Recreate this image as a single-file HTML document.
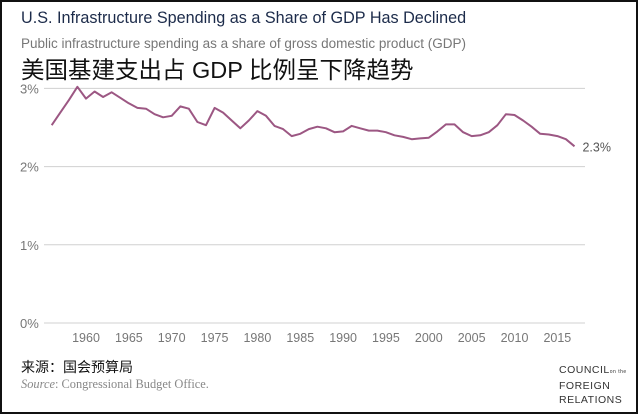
<!DOCTYPE html>
<html><head><meta charset="utf-8">
<style>
html,body{margin:0;padding:0;background:#fff;}
#wrap{position:relative;width:634px;height:410px;border:2px solid #111;overflow:hidden;font-family:"Liberation Sans","Noto Sans CJK SC",sans-serif;}
.t{position:absolute;white-space:nowrap;}
</style></head><body>
<div id="wrap">
<div class="t" style="left:19px;top:7px;font-size:16.2px;color:#1c2b4a;">U.S. Infrastructure Spending as a Share of GDP Has Declined</div>
<div class="t" style="left:19px;top:34px;font-size:13.5px;color:#777;">Public infrastructure spending as a share of gross domestic product (GDP)</div>
<div class="t" style="left:19px;top:49px;font-size:23.5px;color:#111;">美国基建支出占 GDP 比例呈下降趋势</div>
<svg id="chart" width="634" height="340" style="position:absolute;left:0;top:0;"></svg>
<div class="t" style="left:19px;top:355px;font-size:14px;color:#111;">来源：国会预算局</div>
<div class="t" style="left:19px;top:375px;font-size:12.4px;color:#888;font-family:'Liberation Serif',serif;"><i>Source</i>: Congressional Budget Office.</div>
<div class="t" style="left:557px;top:361px;font-size:10.5px;line-height:14px;color:#333;letter-spacing:0.5px;">COUNCIL<span style="font-size:5px">on the</span><br>FOREIGN<br>RELATIONS</div>
</div>
<script>
const years=[1956,1957,1958,1959,1960,1961,1962,1963,1964,1965,1966,1967,1968,1969,1970,1971,1972,1973,1974,1975,1976,1977,1978,1979,1980,1981,1982,1983,1984,1985,1986,1987,1988,1989,1990,1991,1992,1993,1994,1995,1996,1997,1998,1999,2000,2001,2002,2003,2004,2005,2006,2007,2008,2009,2010,2011,2012,2013,2014,2015,2016,2017];
const values=[2.53,2.69,2.85,3.02,2.87,2.96,2.89,2.95,2.88,2.81,2.75,2.74,2.67,2.63,2.65,2.77,2.74,2.57,2.53,2.75,2.69,2.59,2.49,2.59,2.71,2.65,2.52,2.48,2.39,2.42,2.48,2.51,2.49,2.44,2.45,2.52,2.49,2.46,2.46,2.44,2.40,2.38,2.35,2.36,2.37,2.45,2.54,2.54,2.44,2.39,2.40,2.44,2.53,2.67,2.66,2.59,2.51,2.42,2.41,2.39,2.35,2.26];
const yTicks=[0,1,2,3];
const xTicks=[1960,1965,1970,1975,1980,1985,1990,1995,2000,2005,2010,2015];
const ns="http://www.w3.org/2000/svg";
const svg=document.getElementById('chart');
const off=-2;
function x(yr){return 86+off+(yr-1960)*8.57;}
function y(v){return 321-v*78.2;}
function el(tag,attrs,txt){const e=document.createElementNS(ns,tag);for(const k in attrs)e.setAttribute(k,attrs[k]);if(txt!=null)e.textContent=txt;svg.appendChild(e);return e;}
yTicks.forEach(v=>{
  const g=el('line',{x1:42,x2:583,y1:y(v),y2:y(v),stroke:'#d0d0d0','stroke-width':1});
  
  
  const t=el('text',{x:18,y:y(v)+5,'font-size':13,fill:'#777','font-family':'Liberation Sans, sans-serif'},v+'%');
  
  
});
xTicks.forEach(yr=>{
  const t=el('text',{x:x(yr),y:340,'font-size':12.5,fill:'#777','text-anchor':'middle','font-family':'Liberation Sans, sans-serif'},yr);
  
  
});
const d=years.map((yr,i)=>(i?'L':'M')+x(yr).toFixed(1)+' '+y(values[i]).toFixed(1)).join(' ');
const p=el('path',{d:d,fill:'none',stroke:'#9c5783','stroke-width':2,'stroke-linejoin':'round'});


const last=values.length-1;
const lab=el('text',{x:x(years[last])+8,y:y(values[last])+5,'font-size':12.5,fill:'#555','font-family':'Liberation Sans, sans-serif'},'2.3%');


</script>
</body></html>
